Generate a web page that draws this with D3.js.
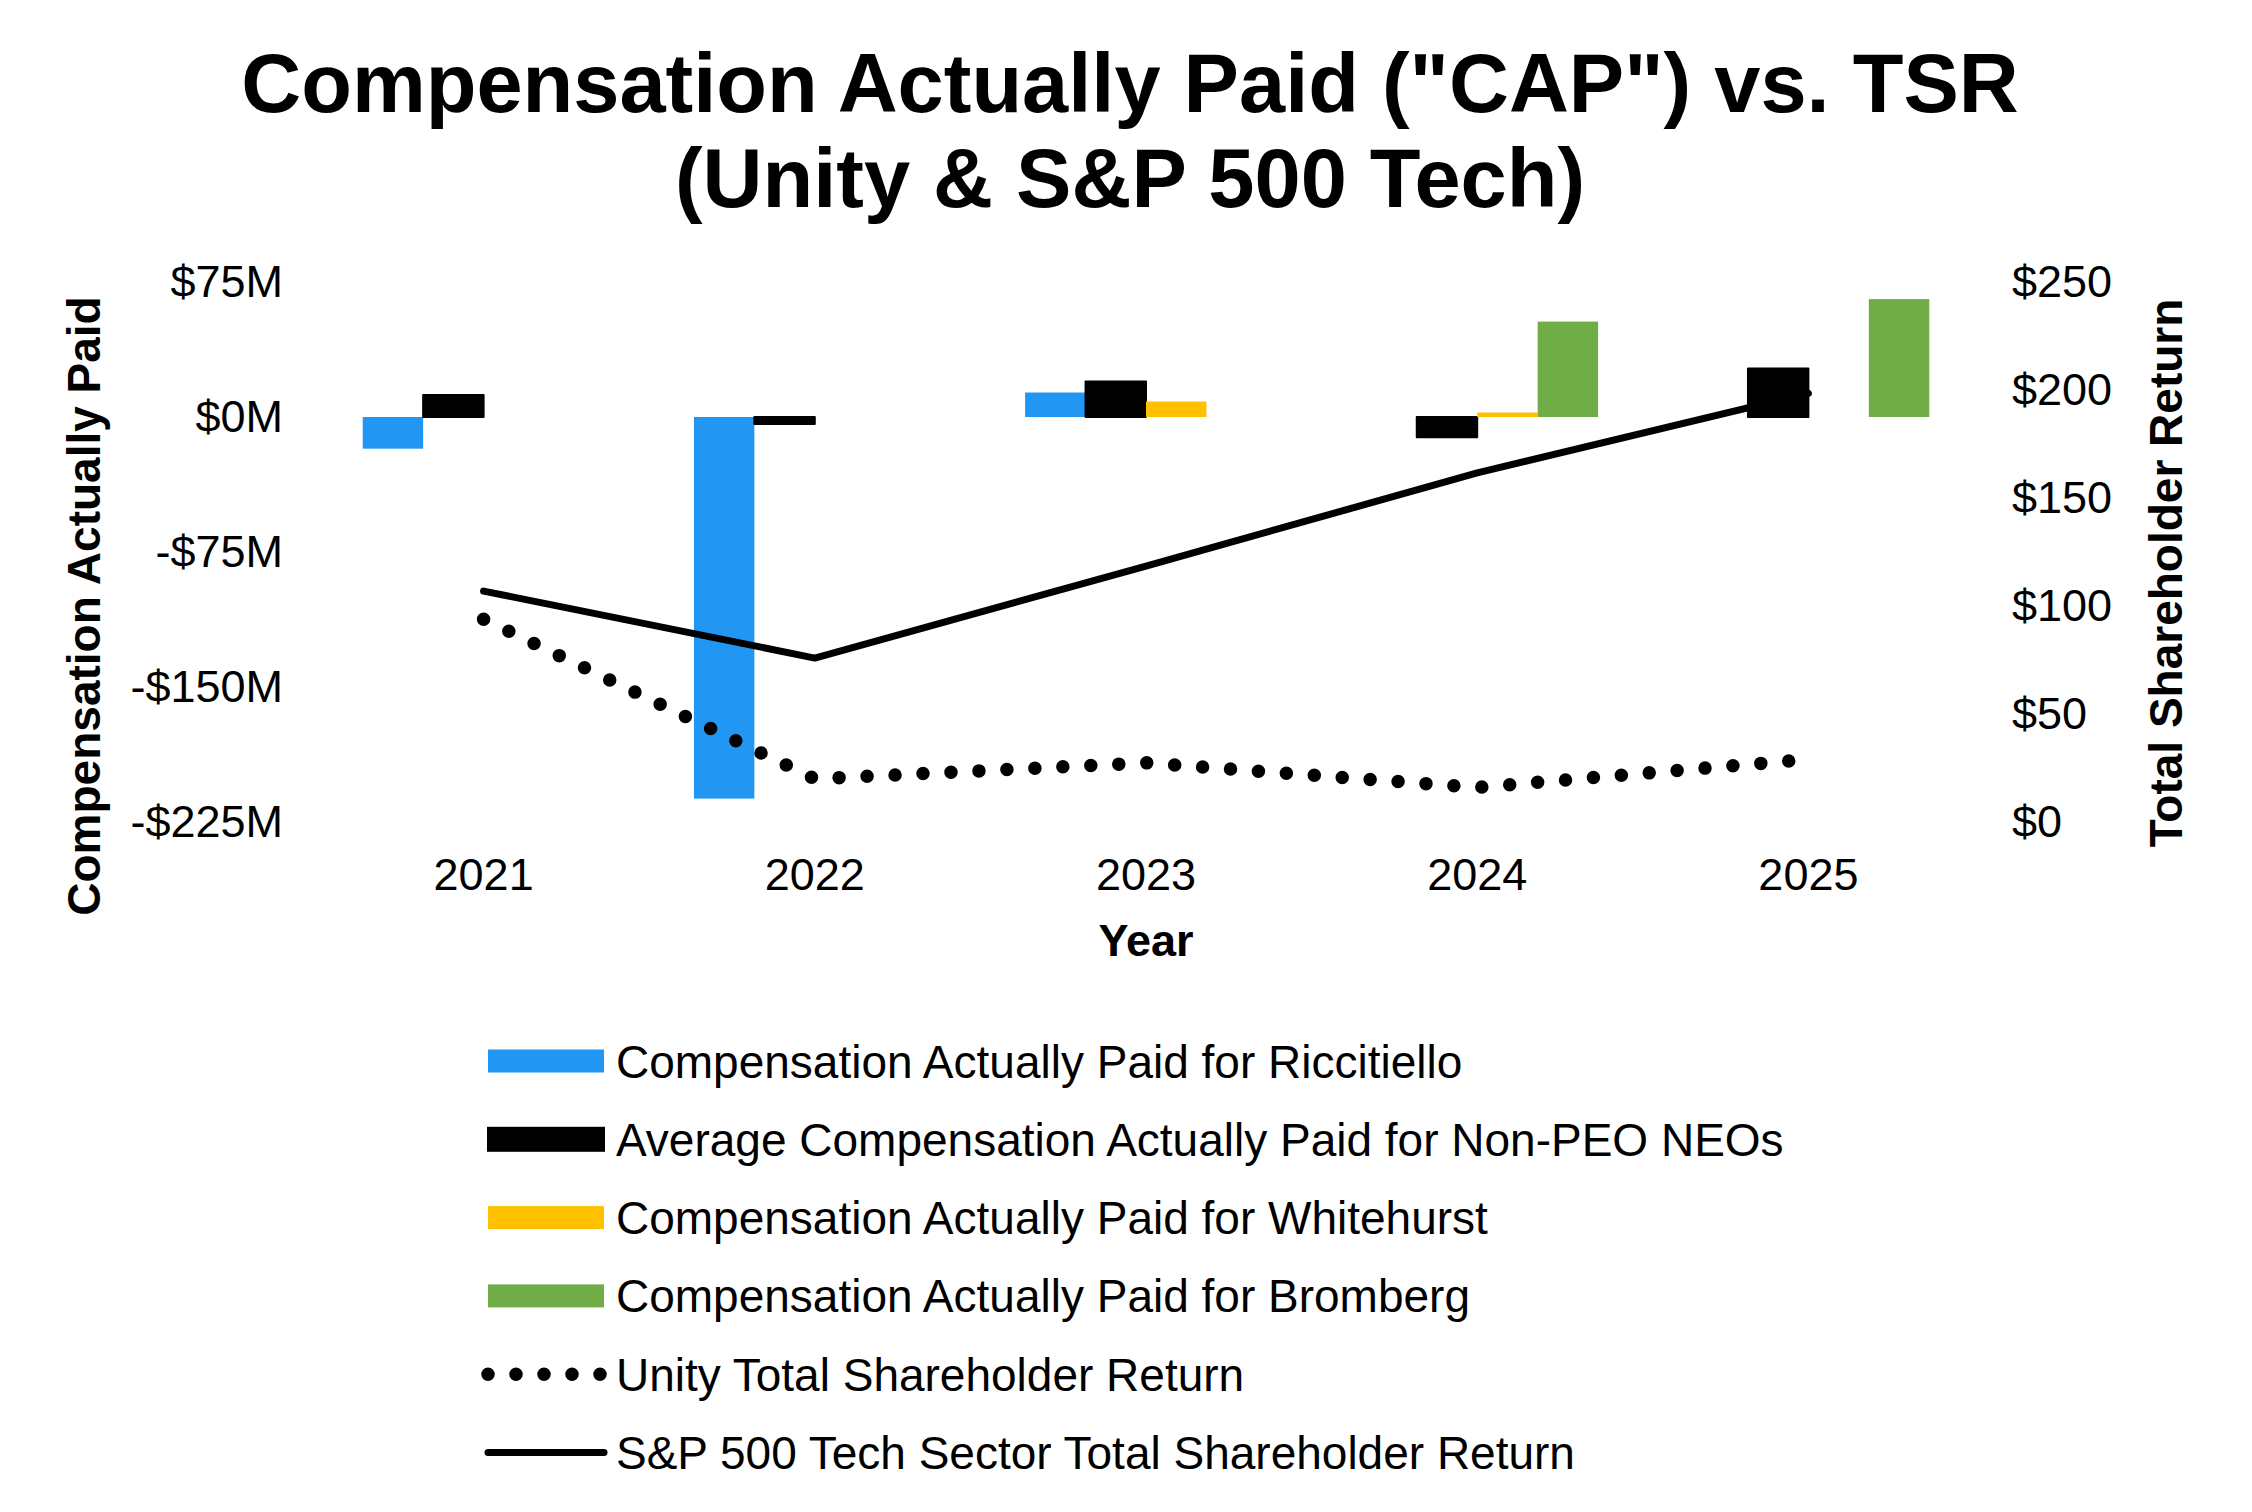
<!DOCTYPE html>
<html>
<head>
<meta charset="utf-8">
<script src="https://cdn.jsdelivr.net/npm/d3@7"></script>
<style>
  html, body { margin: 0; padding: 0; background: #fff; }
  svg { display: block; font-family: "Liberation Sans", Arial, sans-serif; }
</style>
</head>
<body>
<svg id="chart" width="2252" height="1512"></svg>
<script>
// ---- data ----
const years = ["2021", "2022", "2023", "2024", "2025"];
const seriesNames = [
  "Compensation Actually Paid for Riccitiello",
  "Average Compensation Actually Paid for Non-PEO NEOs",
  "Compensation Actually Paid for Whitehurst",
  "Compensation Actually Paid for Bromberg"
];
// $M, null = no bar
const capRiccitiello = [-17.6, -212.0, 13.6, null, null];
const capNonPeo = [12.2, -3.9, 19.7, -11.2, 26.9];
const capWhitehurst = [null, null, 8.6, 2.5, null];
const capBromberg = [null, null, null, 53.0, 65.5];
const unityTsr = [93.9, 20.0, 27.4, 16.0, 29.0];
const spTechTsr = [106.9, 75.9, 118.5, 161.6, 198.5];
const leftTicks = [-225, -150, -75, 0, 75];
const rightTicks = [0, 50, 100, 150, 200, 250];
const lineNames = ["Unity Total Shareholder Return", "S&P 500 Tech Sector Total Shareholder Return"];
const barColors = ["#2196F3", "#000000", "#FFC000", "#70AD47"];

const barSeries = [capRiccitiello, capNonPeo, capWhitehurst, capBromberg];

const svg = d3.select("#chart");

// ---- scales ----
const x0 = d3.scaleBand().domain(years).range([318, 1974]).paddingInner(0.27).paddingOuter(0.135);
const x1 = d3.scaleBand().domain(d3.range(seriesNames.length)).range([0, x0.bandwidth()]);
const yL = d3.scaleLinear().domain([-225, 75]).range([822, 282]);
const yR = d3.scaleLinear().domain([0, 250]).range([822, 282]);

// ---- title ----
const title = svg.append("text").attr("text-anchor", "middle").attr("font-weight", "bold")
  .attr("font-size", 83).attr("fill", "#000");
title.append("tspan").attr("x", 1130).attr("y", 112).text('Compensation Actually Paid ("CAP") vs. TSR');
title.append("tspan").attr("x", 1130).attr("y", 207).text("(Unity & S&P 500 Tech)");

// ---- axes ----
const fmtL = v => (v < 0 ? "-$" : "$") + Math.abs(v) + "M";
const gL = svg.append("g").attr("transform", "translate(318,0)")
  .call(d3.axisLeft(yL).tickValues(leftTicks).tickFormat(fmtL).tickSize(0).tickPadding(35));
const gR = svg.append("g").attr("transform", "translate(1974,0)")
  .call(d3.axisRight(yR).tickValues(rightTicks).tickFormat(v => "$" + v).tickSize(0).tickPadding(38));
const gX = svg.append("g").attr("transform", "translate(0,822)")
  .call(d3.axisBottom(x0).tickSize(0).tickPadding(36));
[gL, gR, gX].forEach(g => {
  g.select(".domain").remove();
  g.selectAll("text").attr("font-size", 45).attr("font-family", "'Liberation Sans', Arial, sans-serif").attr("fill", "#000");
});

// axis titles
svg.append("text").attr("transform", "translate(100,606) rotate(-90)")
  .attr("text-anchor", "middle").attr("font-weight", "bold").attr("font-size", 46)
  .text("Compensation Actually Paid");
svg.append("text").attr("transform", "translate(2182,573) rotate(-90)")
  .attr("text-anchor", "middle").attr("font-weight", "bold").attr("font-size", 46)
  .text("Total Shareholder Return");
svg.append("text").attr("x", x0("2023") + x0.bandwidth() / 2).attr("y", 956)
  .attr("text-anchor", "middle").attr("font-weight", "bold").attr("font-size", 45)
  .text("Year");

// ---- bars ----
const barData = [];
years.forEach((yr, i) => {
  barSeries.forEach((s, k) => {
    if (s[i] !== null) barData.push({ yr, k, v: s[i] });
  });
});
svg.append("g").selectAll("rect").data(barData).join("rect")
  .attr("x", d => x0(d.yr) + x1(d.k))
  .attr("width", x1.bandwidth())
  .attr("y", d => yL(Math.max(0, d.v)))
  .attr("height", d => Math.abs(yL(d.v) - yL(0)))
  .attr("fill", d => barColors[d.k])
  .attr("stroke", d => d.k === 1 ? "#000" : "none")
  .attr("stroke-width", 2)
  .attr("stroke-linejoin", "round");

// ---- lines ----
const cx = yr => x0(yr) + x0.bandwidth() / 2;
const lineGen = vals => d3.line().x((d, i) => cx(years[i])).y(d => yR(d))(vals);
svg.append("path").attr("d", lineGen(spTechTsr)).attr("fill", "none")
  .attr("stroke", "#000").attr("stroke-width", 7).attr("stroke-linecap", "round").attr("stroke-linejoin", "round");
svg.append("path").attr("d", lineGen(unityTsr)).attr("fill", "none")
  .attr("stroke", "#000").attr("stroke-width", 13.5).attr("stroke-linecap", "round")
  .attr("stroke-dasharray", "0 28");

// ---- legend ----
const legendItems = seriesNames.map((n, k) => ({ name: n, type: "bar", k }))
  .concat([{ name: lineNames[0], type: "dot" }, { name: lineNames[1], type: "line" }]);
const lg = svg.append("g");
legendItems.forEach((it, i) => {
  const cy = 1061 + i * 78.3;
  if (it.type === "bar") {
    lg.append("rect").attr("x", 488).attr("y", cy - 11.5).attr("width", 116).attr("height", 23)
      .attr("fill", barColors[it.k]).attr("stroke", it.k === 1 ? "#000" : "none").attr("stroke-width", 2);
  } else if (it.type === "dot") {
    lg.append("line").attr("x1", 488).attr("x2", 604).attr("y1", cy).attr("y2", cy)
      .attr("stroke", "#000").attr("stroke-width", 13.5).attr("stroke-linecap", "round").attr("stroke-dasharray", "0 28");
  } else {
    lg.append("line").attr("x1", 488).attr("x2", 604).attr("y1", cy).attr("y2", cy)
      .attr("stroke", "#000").attr("stroke-width", 7).attr("stroke-linecap", "round");
  }
  lg.append("text").attr("x", 616).attr("y", cy).attr("dy", "0.36em")
    .attr("font-size", 46).attr("fill", "#000").text(it.name);
});
</script>
</body>
</html>
